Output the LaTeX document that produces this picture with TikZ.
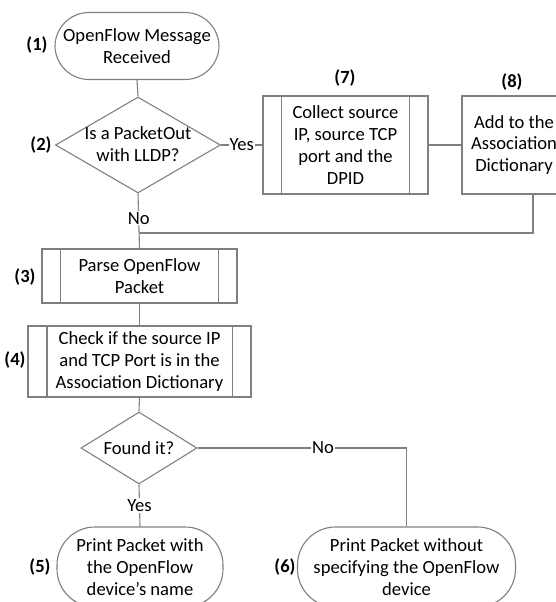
\documentclass[tikz,border=0pt]{standalone}
\usepackage{fontspec}
\setmainfont{Carlito}
\usetikzlibrary{shapes.geometric,calc}
\definecolor{linegray}{HTML}{808080}
\tikzset{
  x=1pt,y=-1pt,
  every node/.style={font=\fontsize{18.6}{21.8}\selectfont, text=black},
  conn/.style={draw=linegray, line width=1.1pt},
  term/.style={draw=linegray, line width=1.1pt, rectangle, rounded corners=34pt, align=center, inner sep=0pt, fill=white},
  procbox/.style={draw=linegray, line width=1.1pt, rectangle, align=center, inner sep=0pt, fill=white},
  dia/.style={draw=linegray, line width=1.1pt, diamond, inner sep=0pt, fill=white},
  txt/.style={align=center, inner sep=0pt},
  num/.style={font=\fontsize{18.6}{21.8}\selectfont\bfseries, inner sep=0pt},
  lbl/.style={fill=white, inner sep=1pt}
}
\newcommand{\sides}[2]{%
  \draw[conn] ($(#1.north west)+(#2,0)$) -- ($(#1.south west)+(#2,0)$);
  \draw[conn] ($(#1.north east)+(-#2,0)$) -- ($(#1.south east)+(-#2,0)$);}
\begin{document}
\begin{tikzpicture}
\useasboundingbox (0,0) rectangle (556,602);
\clip (0,0) rectangle (556,602);
% (1)
\node[term, minimum width=164pt, minimum height=67pt] (n1) at (137,46) {OpenFlow Message\\Received};
\node[num] (l1) at (37,45) {(1)};
% (2)
\node[dia, minimum width=165pt, minimum height=96pt] (n2) at (138,145) {};
\node[txt] (t2) at (138,144) {Is a PacketOut\\with LLDP?};
\node[num] (l2) at (41,145) {(2)};
% (7)
\node[procbox, minimum width=165pt, minimum height=98pt] (n7) at (345.5,145) {Collect source\\IP, source TCP\\port and the\\DPID};
\sides{n7}{19}
\node[num] (l7) at (345,78) {(7)};
% (8)
\node[procbox, minimum width=104pt, minimum height=98pt] (n8) at (514,145) {Add to the\\Association\\Dictionary};
\node[num] (l8) at (512,82) {(8)};
% (3)
\node[procbox, minimum width=195pt, minimum height=54pt] (n3) at (139.5,276) {Parse OpenFlow\\Packet};
\sides{n3}{19}
\node[num] (l3) at (25,277) {(3)};
% (4)
\node[procbox, minimum width=223pt, minimum height=71pt] (n4) at (139.5,361.5) {Check if the source IP\\and TCP Port is in the\\Association Dictionary};
\sides{n4}{19.5}
\node[num] (l4) at (15,360) {(4)};
% found
\node[dia, minimum width=116pt, minimum height=72pt] (n9) at (139,448) {};
\node[txt] (t9) at (139,448) {Found it?};
% (5)
\node[term, minimum width=166pt, minimum height=80pt, rounded corners=38pt] (n5) at (140,567) {Print Packet with\\the OpenFlow\\device’s name};
\node[num] (l5) at (40,567) {(5)};
% (6)
\node[term, minimum width=218pt, minimum height=80pt, rounded corners=38pt] (n6) at (406.5,567) {Print Packet without\\specifying the OpenFlow\\device};
\node[num] (l6) at (285,567) {(6)};
% connectors
\coordinate (j1) at (533,233);
\coordinate (j2) at (139,233);
\coordinate (c6) at (406.5,448);
\draw[conn] (n1.south) -- (n2.north);
\draw[conn] (n2.east) -- node[lbl] {Yes} (n7.west);
\draw[conn] (n7.east) -- (n8.west);
\draw[conn] (n8.south -| j1) -- (j1) -- (j2);
\draw[conn] (n2.south) -- node[lbl, pos=0.45] {No} (n3.north);
\draw[conn] (n3.south) -- (n4.north);
\draw[conn] (n4.south) -- (n9.north);
\draw[conn] (n9.south) -- node[lbl] {Yes} (n5.north);
\draw[conn] (n9.east) -- node[lbl, pos=0.6] {No} (c6) -- (n6.north);
\end{tikzpicture}
\end{document}
